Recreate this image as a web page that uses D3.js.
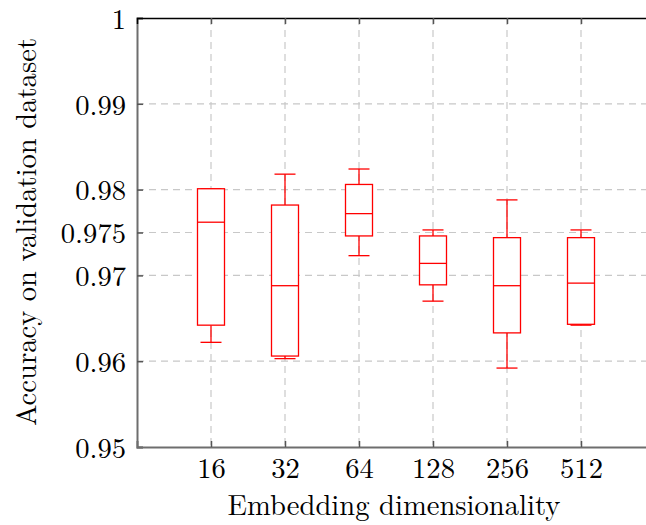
<!DOCTYPE html>
<html><head><meta charset="utf-8">
<script src="https://cdn.jsdelivr.net/npm/d3@7"></script>
<style>
html,body{margin:0;padding:0;background:#fff;overflow:hidden}
</style></head>
<body><svg id="c" width="646" height="525"></svg>
<script>
const categories = ["16","32","64","128","256","512"];
const whiskerLow  = [0.9622, 0.9603, 0.9723, 0.9670, 0.9592, 0.9642];
const q1          = [0.9642, 0.9606, 0.9746, 0.9689, 0.9633, 0.9643];
const median      = [0.9762, 0.9688, 0.9772, 0.9714, 0.9688, 0.9691];
const q3          = [0.9801, 0.9782, 0.9806, 0.9746, 0.9744, 0.9744];
const whiskerHigh = [0.9801, 0.9818, 0.9824, 0.9753, 0.9788, 0.9753];
const yTicks = [0.95, 0.96, 0.97, 0.975, 0.98, 0.99, 1];

const svg = d3.select("#c");

// pick an installed serif font
function measure(ff) {
  const t = svg.append("text").attr("font-size", 40).style("font-family", ff).text("Embedding dimensionality 0.975 Wmgil");
  const w = t.node().getComputedTextLength();
  t.remove();
  return w;
}
const candidates = ["Latin Modern Roman", "CMU Serif", "Liberation Serif", "Tinos", "Times New Roman", "DejaVu Serif", "Noto Serif", "FreeSerif", "Nimbus Roman", "Nimbus Roman No9 L", "TeX Gyre Termes"];
const baseMono = measure("monospace");
let chosen = null;
for (const c of candidates) {
  if (Math.abs(measure(`"${c}", monospace`) - baseMono) > 0.5) { chosen = c; break; }
}
const FF = chosen ? `"${chosen}", serif` : "serif";

const mLeft = 137, mRight = 655, mTop = 18, mBottom = 447;
const x = d3.scaleLinear().domain([0, 7]).range([mLeft, mRight]);
const y = d3.scaleLinear().domain([0.95, 1]).range([mBottom, mTop]);

// size font to match reference text width
const probe = svg.append("text").attr("font-size", 20).style("font-family", FF).text("Embedding dimensionality");
const w20 = probe.node().getComputedTextLength();
probe.remove();
const fs = Math.min(34, Math.max(20, 20 * 333 / w20));

// grid
const grid = svg.append("g").attr("stroke", "#c8c8c8").attr("stroke-width", 1.2).attr("stroke-dasharray", "7,5");
yTicks.forEach(t => {
  if (t === 0.95 || t === 1) return;
  grid.append("line").attr("x1", mLeft).attr("x2", mRight).attr("y1", y(t)).attr("y2", y(t));
});
categories.forEach((c, i) => {
  grid.append("line").attr("x1", x(i + 1)).attr("x2", x(i + 1)).attr("y1", mTop).attr("y2", mBottom);
});

// axes
const yAxis = d3.axisLeft(y).tickValues(yTicks).tickSize(-6).tickPadding(10)
  .tickFormat(d => d === 1 ? "1" : (d === 0.975 ? "0.975" : d3.format(".2f")(d)));
const gy = svg.append("g").attr("transform", `translate(${mLeft},0)`).call(yAxis);
gy.attr("font-family", null).attr("font-size", null);
gy.select(".domain").attr("stroke", "#6e6e6e").attr("stroke-width", 2);
gy.selectAll(".tick line").attr("stroke", "#555").attr("stroke-width", 1.5);
gy.selectAll("text").attr("font-size", fs).style("font-family", FF).attr("fill", "#000").attr("x", -11).attr("dy", "0.36em");

const xAxis = d3.axisBottom(x).tickValues(d3.range(1, 7)).tickSize(-6).tickPadding(12)
  .tickFormat(d => categories[d - 1]);
const gx = svg.append("g").attr("transform", `translate(0,${mBottom})`).call(xAxis);
gx.attr("font-family", null).attr("font-size", null);
gx.select(".domain").attr("stroke", "#6e6e6e").attr("stroke-width", 2);
gx.selectAll(".tick line").attr("stroke", "#555").attr("stroke-width", 1.5);
gx.selectAll("text").attr("font-size", fs).style("font-family", FF).attr("fill", "#000").attr("y", 31).attr("dy", null);

// top line and ticks
const xTop = d3.axisTop(x).tickValues(d3.range(1, 7)).tickSize(-6).tickFormat("");
const gt = svg.append("g").attr("transform", `translate(0,${mTop})`).call(xTop);
gt.select(".domain").attr("stroke", "#000").attr("stroke-width", 1.5);
gt.selectAll(".tick line").attr("stroke", "#555").attr("stroke-width", 1.5);

// boxes
const boxW = 27, capW = 21;
const bg = svg.append("g").attr("stroke", "#ff0000").attr("stroke-width", 1.3).attr("fill", "none");
categories.forEach((c, i) => {
  const cx = x(i + 1);
  bg.append("line").attr("x1", cx).attr("x2", cx).attr("y1", y(whiskerHigh[i])).attr("y2", y(q3[i]));
  bg.append("line").attr("x1", cx).attr("x2", cx).attr("y1", y(q1[i])).attr("y2", y(whiskerLow[i]));
  bg.append("line").attr("x1", cx - capW / 2).attr("x2", cx + capW / 2).attr("y1", y(whiskerHigh[i])).attr("y2", y(whiskerHigh[i]));
  bg.append("line").attr("x1", cx - capW / 2).attr("x2", cx + capW / 2).attr("y1", y(whiskerLow[i])).attr("y2", y(whiskerLow[i]));
  bg.append("rect").attr("x", cx - boxW / 2).attr("width", boxW).attr("y", y(q3[i])).attr("height", y(q1[i]) - y(q3[i])).attr("fill", "#fff");
  bg.append("line").attr("x1", cx - boxW / 2).attr("x2", cx + boxW / 2).attr("y1", y(median[i])).attr("y2", y(median[i]));
});

// labels
svg.append("text").attr("x", 394).attr("y", 515).attr("text-anchor", "middle").attr("font-size", fs)
  .style("font-family", FF).text("Embedding dimensionality");
svg.append("text").attr("transform", "translate(36,232) rotate(-90)").attr("text-anchor", "middle").attr("font-size", fs)
  .style("font-family", FF).text("Accuracy on validation dataset");
</script></body></html>
